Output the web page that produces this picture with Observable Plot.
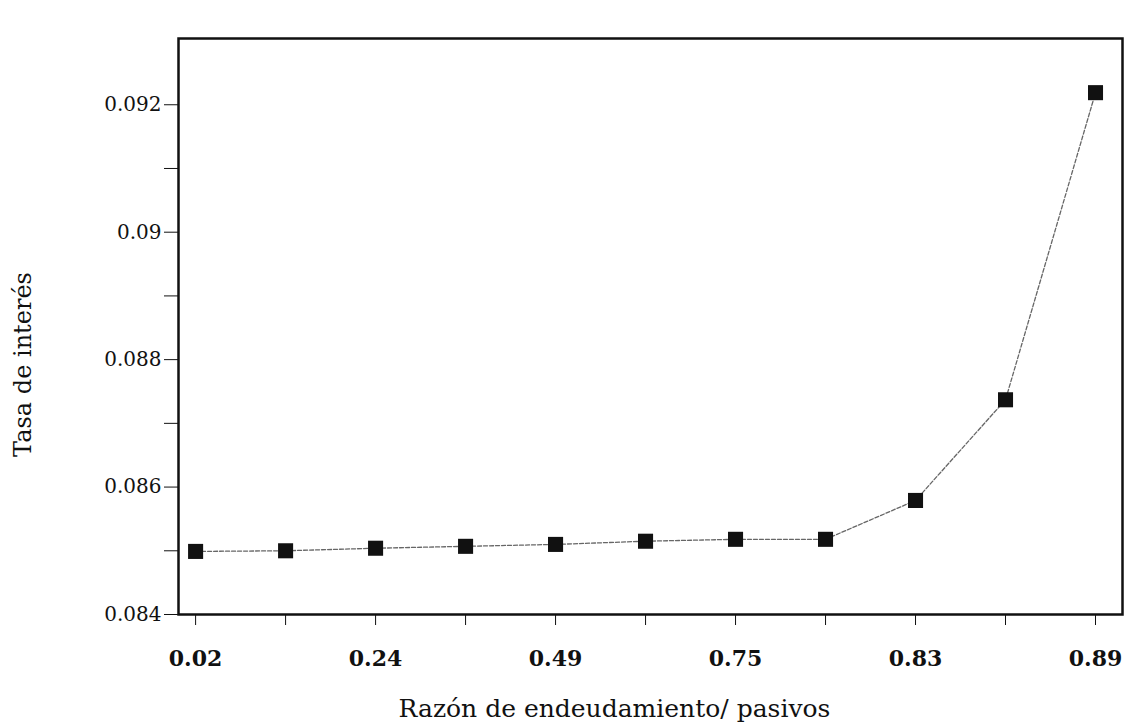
<!DOCTYPE html>
<html>
<head>
<meta charset="utf-8">
<script src="https://cdn.jsdelivr.net/npm/d3@7"></script>
<script src="https://cdn.jsdelivr.net/npm/@observablehq/plot@0.6"></script>
<style>
  html, body { margin: 0; padding: 0; background: #fff; }
  svg [aria-label="x-axis tick label"] { font-size: 22px; font-weight: bold; }
  svg [aria-label="y-axis tick label"] { font-size: 20px; }
</style>
</head>
<body>
<div id="chart"></div>
<script>
const xLabels = ["0.02", "", "0.24", "", "0.49", "", "0.75", "", "0.83", "", "0.89"];
const rates = [0.08499, 0.08500, 0.08504, 0.08507, 0.08510, 0.08515, 0.08518, 0.08518, 0.08579, 0.08737, 0.09219];
const yMajor = [0.084, 0.086, 0.088, 0.09, 0.092];
const yMinor = [0.085, 0.087, 0.089, 0.091];
const xTitle = "Razón de endeudamiento/ pasivos";
const yTitle = "Tasa de interés";

const data = rates.map((r, i) => ({i, r}));
const font = "DejaVu Serif, Liberation Serif, serif";

const chart = Plot.plot({
  width: 1127,
  height: 725,
  marginLeft: 178,
  marginRight: 5,
  marginTop: 38,
  marginBottom: 111,
  style: {fontFamily: font, color: "#111", background: "#fff"},
  x: {domain: [-0.19, 10.3]},
  y: {domain: [0.084, 0.09304]},
  marks: [
    Plot.frame({stroke: "#111", strokeWidth: 2.5}),
    Plot.axisY({ticks: yMajor, tickFormat: d3.format("~g"), tickSize: 14, tickPadding: 3, label: null}),
    Plot.axisY({ticks: yMinor, tickFormat: () => "", tickSize: 14, label: null}),
    Plot.axisX({ticks: d3.range(xLabels.length), tickFormat: i => xLabels[i], tickSize: 11,
      tickPadding: 25, label: null}),
    Plot.text([yTitle], {text: d => d, frameAnchor: "left", rotate: -90, lineAnchor: "top",
      textAnchor: "middle", dx: -165, dy: 38, fontSize: 24, fill: "#111"}),
    Plot.text([xTitle], {text: d => d, frameAnchor: "bottom", lineAnchor: "bottom",
      dx: -36, dy: 102, fontSize: 25, fill: "#111"}),
    Plot.line(data, {x: "i", y: "r", stroke: "#666", strokeWidth: 1.3, strokeDasharray: "4,2"}),
    Plot.dot(data, {x: "i", y: "r", symbol: "square", r: 8.5, fill: "#111", stroke: "none"})
  ]
});

document.getElementById("chart").append(chart);
</script>
</body>
</html>
